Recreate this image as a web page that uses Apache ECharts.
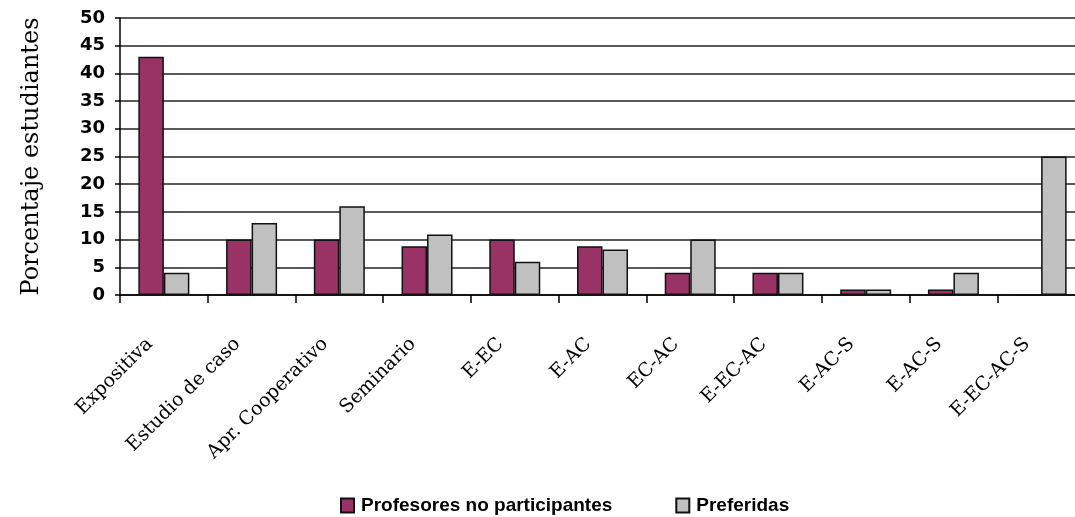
<!DOCTYPE html>
<html>
<head>
<meta charset="utf-8">
<script src="https://cdn.jsdelivr.net/npm/echarts@6/dist/echarts.min.js"></script>
<style>
html,body{margin:0;padding:0;background:#fff;overflow:hidden;}
#chart{width:1085px;height:517px;}
</style>
</head>
<body>
<div id="chart"></div>
<script>
const categories = ['Expositiva','Estudio de caso','Apr. Cooperativo','Seminario','E-EC','E-AC','EC-AC','E-EC-AC','E-AC-S','E-AC-S','E-EC-AC-S'];
const profesores = [43, 10, 10, 8.8, 10, 8.8, 4, 4, 1, 1, 0];
const preferidas = [4, 13, 16, 10.9, 6, 8.2, 10, 4, 1, 4, 25];
const seriesNames = ['Profesores no participantes', 'Preferidas'];
const yTitle = 'Porcentaje estudiantes';

const chart = echarts.init(document.getElementById('chart'), null, {renderer: 'canvas', width: 1085, height: 517});
chart.setOption({
  animation: false,
  backgroundColor: '#ffffff',
  grid: {left: 120, right: 0, top: 18, bottom: 222, containLabel: false},
  legend: {
    left: 335, top: 491,
    icon: 'rect',
    itemWidth: 13, itemHeight: 14, itemGap: 63,
    textStyle: {fontFamily: 'Liberation Sans', fontWeight: 'bold', fontSize: 19, color: '#000', padding: [0,0,0,2]},
    data: seriesNames
  },
  xAxis: {
    type: 'category',
    data: categories,
    axisLine: {lineStyle: {color: '#000', width: 1.5}},
    axisTick: {show: true, length: 8, lineStyle: {color: '#000', width: 1.5}},
    axisLabel: {
      interval: 0, rotate: 45, margin: 32,
      padding: [0, 20, 0, 0],
      fontFamily: 'DejaVu Serif', fontSize: 19, color: '#000'
    },
    splitLine: {show: false}
  },
  yAxis: {
    type: 'value', min: 0, max: 50, interval: 5,
    name: yTitle, nameLocation: 'middle', nameGap: 76, nameRotate: 90,
    nameTextStyle: {fontFamily: 'DejaVu Serif', fontSize: 24, color: '#000'},
    axisLine: {show: true, lineStyle: {color: '#000', width: 1.5}},
    axisTick: {show: true, length: 5, lineStyle: {color: '#000', width: 1.5}},
    axisLabel: {margin: 15, fontFamily: 'DejaVu Sans', fontWeight: 'bold', fontSize: 18, color: '#000'},
    splitLine: {show: true, lineStyle: {color: '#222', width: 1.5}}
  },
  series: [
    {
      name: seriesNames[0], type: 'bar', data: profesores,
      barWidth: 25.5, barGap: '0%',
      itemStyle: {color: '#993366', borderColor: '#111', borderWidth: 1.5}
    },
    {
      name: seriesNames[1], type: 'bar', data: preferidas,
      barWidth: 25.5, barGap: '0%',
      itemStyle: {color: '#c0c0c0', borderColor: '#111', borderWidth: 1.5}
    }
  ]
});
</script>
</body>
</html>
